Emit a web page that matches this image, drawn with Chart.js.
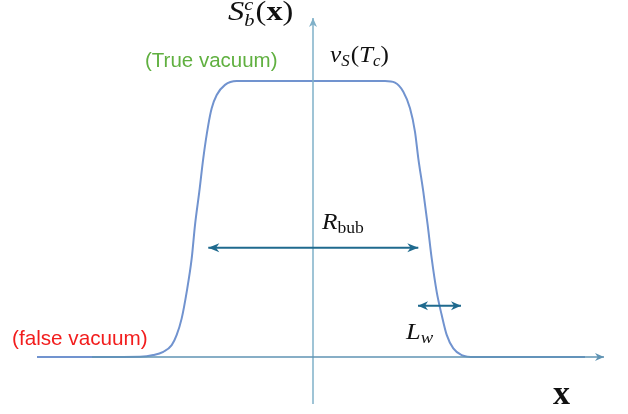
<!DOCTYPE html>
<html>
<head>
<meta charset="utf-8">
<script src="https://cdn.jsdelivr.net/npm/chart.js@4.4.1/dist/chart.umd.min.js"></script>
<style>
html,body{margin:0;padding:0;background:#fff;}
#wrap{width:628px;height:414px;position:relative;}
</style>
</head>
<body>
<div id="wrap"><canvas id="c"></canvas></div>
<script>
// Bubble wall profile (x in arbitrary units, S normalised to v_S(T_c) = 1)
const profileX = [-2.76,-2.13,-1.73,-1.597,-1.497,-1.413,-1.363,-1.313,-1.263,-1.213,-1.18,-1.137,-1.097,-1.047,-1.013,-0.963,-0.88,-0.763,-0.63,0.72,0.82,0.903,0.97,1.02,1.053,1.103,1.147,1.187,1.237,1.287,1.337,1.403,1.487,1.62,1.82,2.72];
const profileS = [0,0,0.001,0.007,0.019,0.043,0.080,0.140,0.236,0.357,0.478,0.599,0.721,0.841,0.901,0.949,0.986,1.0,1.0,1.0,0.994,0.961,0.901,0.816,0.720,0.599,0.478,0.357,0.236,0.152,0.080,0.031,0.007,0,0,0];

// Axes and annotation arrows (data units)
const xAxisX = [-2.21, 2.91];
const xAxisY = [0, 0];
const yAxisX = [0, 0];
const yAxisY = [-0.170, 1.228];
const rbubX = [-1.047, 1.053];
const rbubY = [0.396, 0.396];
const lwX = [1.05, 1.48];
const lwY = [0.186, 0.186];

const pts = (xs, ys) => xs.map((x, i) => ({x, y: ys[i]}));

const SERIF = '"Liberation Serif", "DejaVu Serif", serif';
const SANS = '"Liberation Sans", Arial, sans-serif';

// Text labels anchored in data coordinates (baseline-left)
const labels = [
  {x: -0.85, y: 1.221, sx: 1.2, parts: [
    {t: 'S', f: 'italic 27px ' + SERIF},
    {t: 'c', f: 'italic 17px ' + SERIF, dy: -10, stack: true},
    {t: 'b', f: 'italic 17px ' + SERIF, dy: 6},
    {t: '(', f: '27px ' + SERIF, gap: 1},
    {t: 'x', f: 'bold 27px ' + SERIF},
    {t: ')', f: '27px ' + SERIF}
  ]},
  {x: 0.17, y: 1.069, sx: 1.05, parts: [
    {t: 'v', f: 'italic 24px ' + SERIF},
    {t: 'S', f: 'italic 16px ' + SERIF, dy: 4},
    {t: '(', f: '24px ' + SERIF, gap: 1},
    {t: 'T', f: 'italic 24px ' + SERIF},
    {t: 'c', f: 'italic 16px ' + SERIF, dy: 4},
    {t: ')', f: '24px ' + SERIF}
  ]},
  {x: 0.09, y: 0.464, sx: 1.1, parts: [
    {t: 'R', f: 'italic 23px ' + SERIF},
    {t: 'bub', f: '16px ' + SERIF, dy: 4}
  ]},
  {x: 0.93, y: 0.065, sx: 1.1, parts: [
    {t: 'L', f: 'italic 24px ' + SERIF},
    {t: 'w', f: 'italic 17px ' + SERIF, dy: 4}
  ]},
  {x: 2.40, y: -0.17, parts: [
    {t: 'x', f: 'bold 34px ' + SERIF}
  ]},
  {x: -1.68, y: 1.051, color: '#60b040', parts: [
    {t: '(True vacuum)', f: '20.5px ' + SANS}
  ]},
  {x: -3.01, y: 0.043, color: '#f21d1d', parts: [
    {t: '(false vacuum)', f: '20.7px ' + SANS}
  ]}
];

const arrowPlugin = {
  id: 'arrowheads',
  afterDatasetsDraw(chart) {
    const ctx = chart.ctx;
    chart.data.datasets.forEach((ds, di) => {
      if (!ds.arrowEnds) return;
      const p = chart.getDatasetMeta(di).data;
      const heads = [];
      if (ds.arrowEnds.includes('end')) heads.push([p[p.length - 1], p[p.length - 2]]);
      if (ds.arrowEnds.includes('start')) heads.push([p[0], p[1]]);
      heads.forEach(([tip, from]) => {
        const a = Math.atan2(tip.y - from.y, tip.x - from.x);
        const L = ds.headLen || 10, W = ds.headWidth || 4.5;
        ctx.save();
        ctx.translate(tip.x, tip.y);
        ctx.rotate(a);
        ctx.beginPath();
        ctx.moveTo(0, 0);
        ctx.lineTo(-L, -W);
        ctx.lineTo(-L * 0.7, 0);
        ctx.lineTo(-L, W);
        ctx.closePath();
        ctx.fillStyle = ds.borderColor;
        ctx.fill();
        ctx.restore();
      });
    });
  }
};

const textPlugin = {
  id: 'mathlabels',
  afterDraw(chart) {
    const ctx = chart.ctx;
    const xs = chart.scales.x, ys = chart.scales.y;
    ctx.textBaseline = 'alphabetic';
    ctx.textAlign = 'left';
    labels.forEach(lb => {
      const x0 = xs.getPixelForValue(lb.x);
      const py = ys.getPixelForValue(lb.y);
      ctx.save();
      ctx.translate(x0, py);
      ctx.scale(lb.sx || 1, 1);
      ctx.fillStyle = lb.color || '#111';
      let px = 0, pending = 0;
      lb.parts.forEach(part => {
        ctx.font = part.f;
        px += part.gap || 0;
        ctx.fillText(part.t, px, part.dy || 0);
        const w = ctx.measureText(part.t).width;
        if (part.stack) {
          pending = Math.max(pending, w);
        } else {
          px += Math.max(w, pending);
          pending = 0;
        }
      });
      ctx.restore();
    });
  }
};

new Chart(document.getElementById('c'), {
  type: 'line',
  data: {
    datasets: [
      {
        data: pts(profileX, profileS),
        borderColor: '#7193cf',
        borderWidth: 2,
        pointRadius: 0,
        cubicInterpolationMode: 'monotone',
        order: 3
      },
      {
        data: pts(xAxisX, xAxisY),
        borderColor: '#5f93b3',
        borderWidth: 1.5,
        pointRadius: 0,
        arrowEnds: ['end'],
        headLen: 9, headWidth: 4,
        order: 2
      },
      {
        data: pts(yAxisX, yAxisY),
        borderColor: '#7fb0c8',
        borderWidth: 1.5,
        pointRadius: 0,
        arrowEnds: ['end'],
        headLen: 9, headWidth: 4,
        order: 2
      },
      {
        data: pts(rbubX, rbubY),
        borderColor: '#1f6a8e',
        borderWidth: 2,
        pointRadius: 0,
        arrowEnds: ['start', 'end'],
        headLen: 11, headWidth: 4.5,
        order: 1
      },
      {
        data: pts(lwX, lwY),
        borderColor: '#1f6a8e',
        borderWidth: 2,
        pointRadius: 0,
        arrowEnds: ['start', 'end'],
        headLen: 10, headWidth: 4.5,
        order: 1
      }
    ]
  },
  options: {
    responsive: true,
    maintainAspectRatio: false,
    animation: false,
    layout: {padding: 0},
    plugins: {legend: {display: false}, tooltip: {enabled: false}},
    scales: {
      x: {type: 'linear', min: -3.13, max: 3.15, display: false},
      y: {type: 'linear', min: -0.2065, max: 1.2935, display: false}
    }
  },
  plugins: [arrowPlugin, textPlugin]
});
</script>
</body>
</html>
